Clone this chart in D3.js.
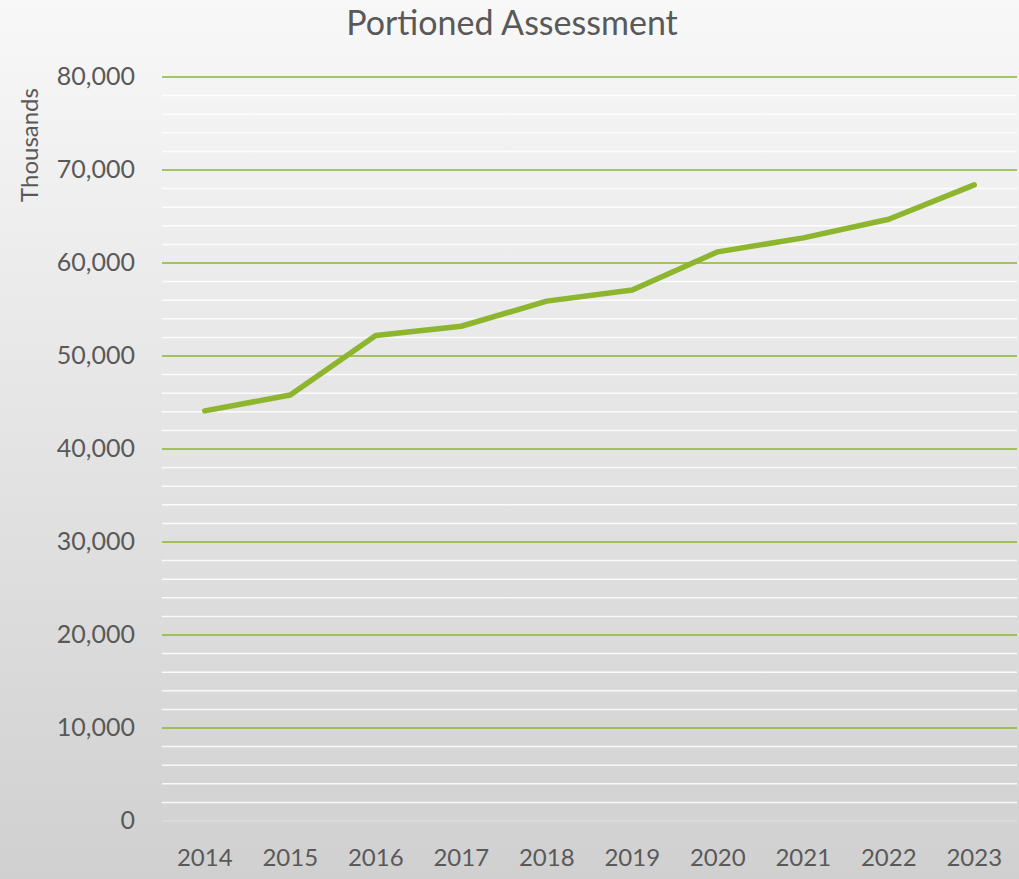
<!DOCTYPE html>
<html>
<head>
<meta charset="utf-8">
<script src="https://cdn.jsdelivr.net/npm/d3@7"></script>
<style>
  html, body { margin: 0; padding: 0; }
  body { width: 1019px; height: 879px; overflow: hidden; }
</style>
</head>
<body>
<div id="chart"></div>
<script>
const years = ['2014', '2015', '2016', '2017', '2018', '2019', '2020', '2021', '2022', '2023'];
const assessment = [44100, 45800, 52200, 53200, 55900, 57100, 61200, 62700, 64700, 68400];
const majorTicks = [0, 10000, 20000, 30000, 40000, 50000, 60000, 70000, 80000];

const W = 1019, H = 879;
const margin = { top: 77, right: 2, bottom: 58, left: 162 };
const GREEN = '#8db52e';
const TEXT = '#595959';
const FONT = "Lato, 'Open Sans', sans-serif";

const svg = d3.select('#chart').append('svg').attr('width', W).attr('height', H);

const grad = svg.append('defs').append('linearGradient')
    .attr('id', 'bg').attr('x1', 0).attr('y1', 0).attr('x2', 0).attr('y2', 1);
grad.append('stop').attr('offset', '0%').attr('stop-color', '#f8f8f8');
grad.append('stop').attr('offset', '100%').attr('stop-color', '#d0d0d0');
svg.append('rect').attr('width', W).attr('height', H).attr('fill', 'url(#bg)');

const x = d3.scaleBand().domain(years).range([margin.left, W - margin.right]);
const y = d3.scaleLinear().domain([0, 80000]).range([H - margin.bottom, margin.top]);

// minor gridlines (white)
const minor = d3.range(2000, 80000, 2000).filter(v => v % 10000 !== 0);
svg.append('g').selectAll('line').data(minor).join('line')
    .attr('x1', margin.left).attr('x2', W - margin.right)
    .attr('y1', d => y(d)).attr('y2', d => y(d))
    .attr('stroke', '#ffffff').attr('stroke-opacity', 0.85).attr('stroke-width', 1.5);

// major gridlines (green)
svg.append('g').selectAll('line').data(majorTicks.filter(v => v > 0)).join('line')
    .attr('x1', margin.left).attr('x2', W - margin.right)
    .attr('y1', d => y(d)).attr('y2', d => y(d))
    .attr('stroke', GREEN).attr('stroke-width', 1.5);
// zero line is faint
svg.append('line')
    .attr('x1', margin.left).attr('x2', W - margin.right)
    .attr('y1', y(0)).attr('y2', y(0))
    .attr('stroke', '#e2e2e2').attr('stroke-width', 1.2);

// y axis labels
const yAxis = svg.append('g')
    .attr('transform', `translate(${margin.left - 27},0)`)
    .call(d3.axisLeft(y).tickValues(majorTicks).tickSize(0).tickPadding(0).tickFormat(d3.format(',')));
yAxis.select('.domain').remove();
yAxis.selectAll('text')
    .attr('fill', TEXT).attr('font-size', 25).attr('font-family', FONT).attr('dy', '0.3em');

// x axis labels
const xAxis = svg.append('g')
    .attr('transform', `translate(0,${H - margin.bottom})`)
    .call(d3.axisBottom(x).tickSize(0).tickPadding(28));
xAxis.select('.domain').remove();
xAxis.selectAll('text')
    .attr('fill', TEXT).attr('font-size', 24).attr('font-family', FONT);

// line
const line = d3.line()
    .x((d, i) => x(years[i]) + x.bandwidth() / 2)
    .y(d => y(d));
svg.append('path').datum(assessment)
    .attr('d', line)
    .attr('fill', 'none')
    .attr('stroke', GREEN)
    .attr('stroke-width', 5.5)
    .attr('stroke-linecap', 'round')
    .attr('stroke-linejoin', 'round');

// title
svg.append('text')
    .attr('x', 512).attr('y', 35)
    .attr('text-anchor', 'middle')
    .attr('fill', TEXT).attr('font-size', 34).attr('font-family', FONT)
    .text('Portioned Assessment');

// y axis title
svg.append('text')
    .attr('transform', 'translate(38,145) rotate(-90)')
    .attr('text-anchor', 'middle')
    .attr('fill', TEXT).attr('font-size', 24).attr('font-family', FONT)
    .text('Thousands');
</script>
</body>
</html>
